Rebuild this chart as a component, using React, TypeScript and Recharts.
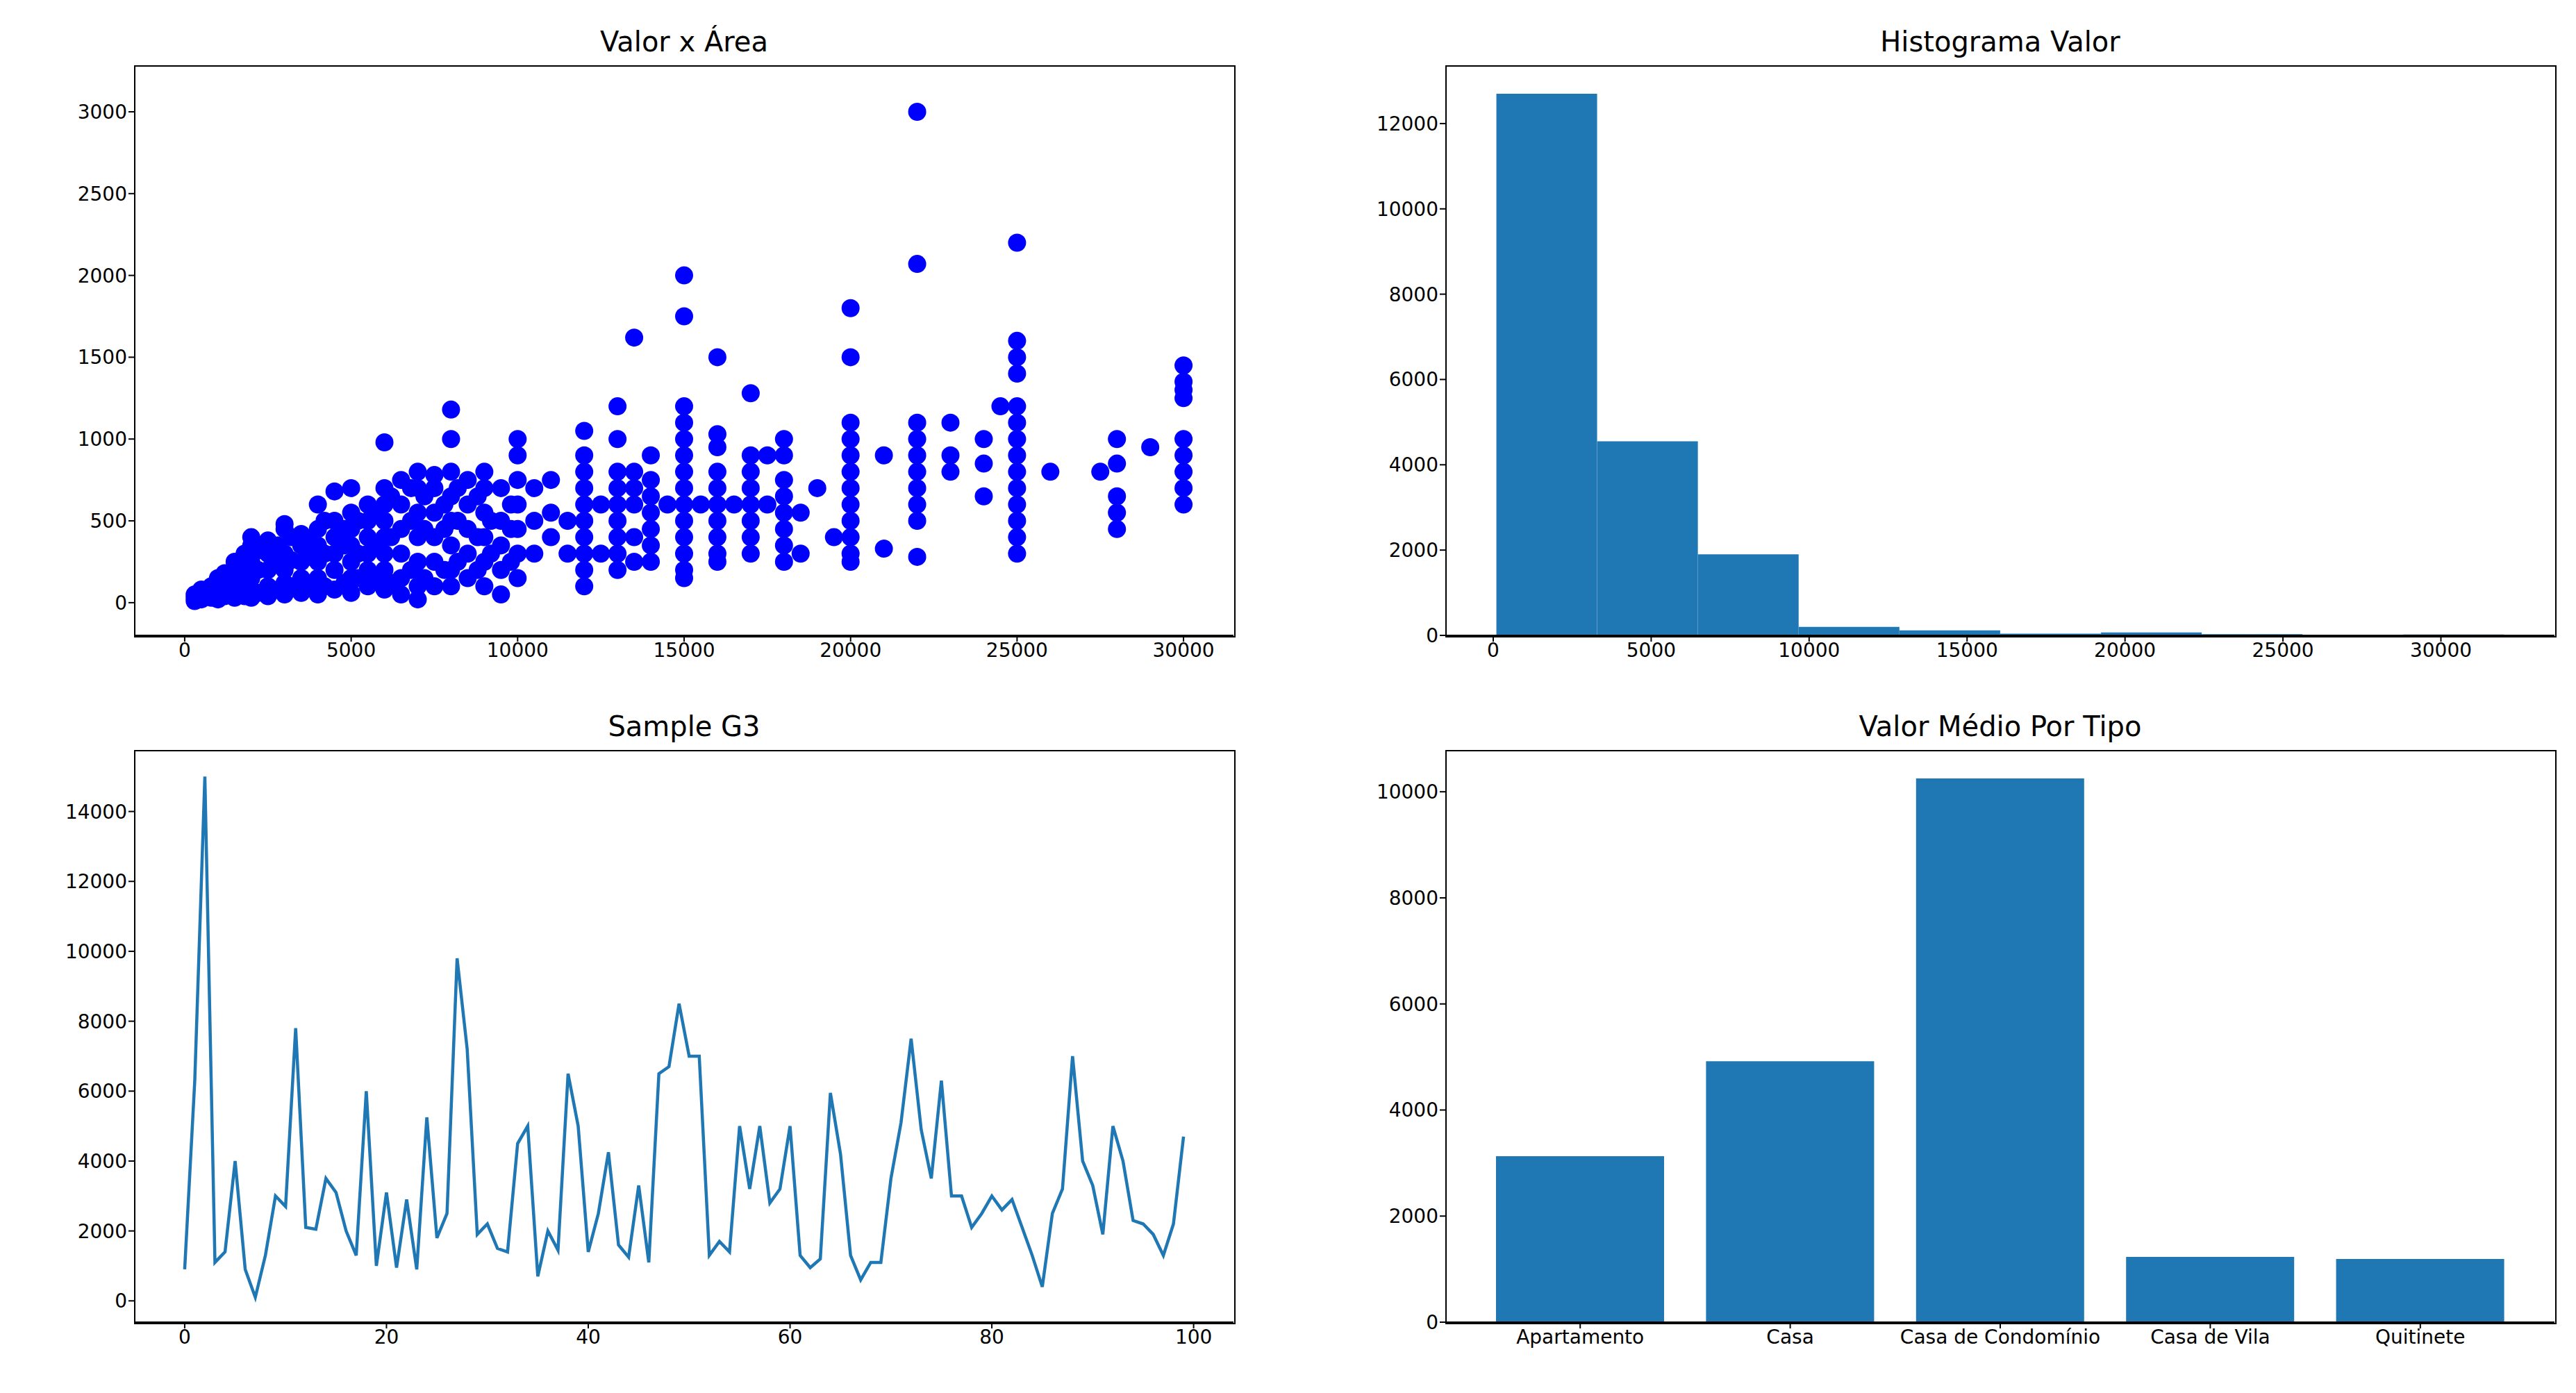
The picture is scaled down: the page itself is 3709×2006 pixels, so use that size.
import React from 'react';
import {
  Bar,
  BarChart,
  CartesianGrid,
  Line,
  LineChart,
  Scatter,
  ScatterChart,
  XAxis,
  YAxis,
} from 'recharts';

// Valor x Área: each column is an x value (valor) with the áreas read at it
const scatterColumns: [number, number[]][] = [
  [300, [10, 30, 50]],
  [500, [20, 50, 80]],
  [800, [30, 60, 100]],
  [1000, [20, 50, 100, 150]],
  [1200, [40, 80, 180]],
  [1500, [30, 60, 100, 150, 200, 250]],
  [1800, [40, 100, 180, 300]],
  [2000, [30, 80, 150, 250, 350, 400]],
  [2200, [60, 200, 320]],
  [2500, [40, 100, 200, 300, 380]],
  [2800, [80, 230, 350]],
  [3000, [50, 120, 200, 300, 450, 480]],
  [3200, [100, 260, 400]],
  [3500, [60, 150, 250, 350, 420]],
  [3800, [120, 280, 380]],
  [4000, [50, 150, 250, 350, 450, 600]],
  [4200, [100, 300, 500]],
  [4500, [80, 200, 300, 400, 500, 680]],
  [4800, [120, 350, 450]],
  [5000, [60, 150, 250, 350, 450, 550, 700]],
  [5200, [150, 300, 500]],
  [5500, [100, 200, 300, 400, 500, 600]],
  [5800, [150, 350, 550]],
  [6000, [80, 200, 300, 400, 500, 600, 700, 980]],
  [6200, [120, 400, 650]],
  [6500, [50, 150, 300, 450, 600, 750]],
  [6800, [200, 500, 700]],
  [7000, [20, 100, 250, 400, 550, 700, 800]],
  [7200, [150, 450, 650]],
  [7500, [100, 250, 400, 550, 700, 780]],
  [7800, [200, 450, 600]],
  [8000, [100, 200, 350, 500, 650, 800, 1000, 1180]],
  [8200, [250, 500, 700]],
  [8500, [150, 300, 450, 600, 750]],
  [8800, [200, 400, 650]],
  [9000, [100, 250, 400, 550, 700, 800]],
  [9200, [300, 500]],
  [9500, [50, 200, 350, 500, 700]],
  [9800, [250, 450, 600]],
  [10000, [150, 300, 450, 600, 750, 900, 1000]],
  [10500, [300, 500, 700]],
  [11000, [400, 550, 750]],
  [11500, [300, 500]],
  [12000, [100, 200, 300, 400, 500, 600, 700, 800, 900, 1050]],
  [12500, [300, 600]],
  [13000, [200, 300, 400, 500, 600, 700, 800, 1000, 1200]],
  [13500, [250, 400, 600, 700, 800, 1620]],
  [14000, [250, 350, 450, 550, 650, 750, 900]],
  [14500, [600]],
  [15000, [150, 200, 300, 400, 500, 600, 700, 800, 900, 1000, 1100, 1200, 1750, 2000]],
  [15500, [600]],
  [16000, [250, 300, 400, 500, 600, 700, 800, 950, 1030, 1500]],
  [16500, [600]],
  [17000, [300, 400, 500, 600, 700, 800, 900, 1280]],
  [17500, [600, 900]],
  [18000, [250, 350, 450, 550, 650, 750, 900, 1000]],
  [18500, [300, 550]],
  [19000, [700]],
  [19500, [400]],
  [20000, [250, 300, 400, 500, 600, 700, 800, 900, 1000, 1100, 1500, 1800]],
  [21000, [330, 900]],
  [22000, [280, 500, 600, 700, 800, 900, 1000, 1100, 2070, 3000]],
  [23000, [800, 900, 1100]],
  [24000, [650, 850, 1000]],
  [24500, [1200]],
  [25000, [300, 400, 500, 600, 700, 800, 900, 1000, 1100, 1200, 1400, 1500, 1600, 2200]],
  [26000, [800]],
  [27500, [800]],
  [28000, [450, 550, 650, 850, 1000]],
  [29000, [950]],
  [30000, [600, 700, 800, 900, 1000, 1250, 1300, 1350, 1450]],
];

// Histograma Valor
const histMids = [1695, 4885, 8075, 11265, 14455, 17645, 20835, 24025, 27215, 30405];
const histCounts = [12700, 4550, 1900, 200, 120, 40, 70, 30, 10, 20];

// Sample G3
const sampleValues = [
  900, 6300, 15000, 1100, 1400, 4000, 900, 100, 1300, 3000,
  2700, 7800, 2100, 2050, 3500, 3100, 2000, 1300, 6000, 1000,
  3100, 950, 2900, 900, 5250, 1800, 2500, 9800, 7200, 1900,
  2200, 1500, 1400, 4500, 5000, 700, 2000, 1450, 6500, 5000,
  1400, 2500, 4250, 1600, 1250, 3300, 1100, 6500, 6700, 8500,
  7000, 7000, 1300, 1700, 1400, 5000, 3200, 5000, 2800, 3200,
  5000, 1300, 950, 1200, 5950, 4200, 1300, 600, 1100, 1100,
  3500, 5100, 7500, 4900, 3500, 6300, 3000, 3000, 2100, 2500,
  3000, 2600, 2900, 2100, 1300, 400, 2500, 3200, 7000, 4000,
  3300, 1900, 5000, 4000, 2300, 2200, 1900, 1300, 2200, 4700,
];

// Valor Médio Por Tipo
const tipos = ['Apartamento', 'Casa', 'Casa de Condomínio', 'Casa de Vila', 'Quitinete'];
const mediaValor = [3130, 4920, 10250, 1230, 1190];

const scatterData = scatterColumns.flatMap(([x, ys]) => ys.map(y => ({ valor: x, area: y })));
const histData = histMids.map((m, i) => ({ mid: m, count: histCounts[i] }));
const sampleData = sampleValues.map((v, i) => ({ i, v }));
const tipoData = tipos.map((t, i) => ({ tipo: t, valor: mediaValor[i] }));

const FONT = 'DejaVu Sans, sans-serif';
const YW = 180;
const XH = 90;
const tick = { fill: '#000', fontSize: 28, fontFamily: FONT };
const axisProps = {
  stroke: '#000',
  strokeWidth: 2,
  tickLine: { stroke: '#000', strokeWidth: 2 },
  tickSize: 9,
  tick,
};

const cols = [
  { left: 194, width: 1582 },
  { left: 2082, width: 1596 },
];
const rows = [
  { top: 95, height: 820 },
  { top: 1081, height: 823 },
];

function Panel({ c, r, title, children }: { c: number; r: number; title: string; children: React.ReactNode }) {
  const { left, width } = cols[c];
  const { top, height } = rows[r];
  return (
    <>
      <div
        style={{
          position: 'absolute',
          left,
          width,
          top: top - 58,
          textAlign: 'center',
          fontFamily: FONT,
          fontSize: 40,
          color: '#000',
        }}
      >
        {title}
      </div>
      <div style={{ position: 'absolute', left: left - YW, top }}>{children}</div>
      <div
        style={{
          position: 'absolute',
          left: left - 1,
          top: top - 1,
          width,
          height,
          border: '2px solid #000',
          pointerEvents: 'none',
        }}
      />
    </>
  );
}

const m = { top: 0, right: 0, bottom: 0, left: 0 };

export default function App() {
  return (
    <div style={{ position: 'absolute', left: 0, top: 0, width: 3709, height: 2006, background: '#fff' }}>
      <Panel c={0} r={0} title="Valor x Área">
        <ScatterChart width={cols[0].width + YW} height={rows[0].height + XH} margin={m}>
          <XAxis
            type="number"
            dataKey="valor"
            domain={[-1500, 31500]}
            ticks={[0, 5000, 10000, 15000, 20000, 25000, 30000]}
            height={XH}
            {...axisProps}
          />
          <YAxis
            type="number"
            dataKey="area"
            domain={[-200, 3280]}
            ticks={[0, 500, 1000, 1500, 2000, 2500, 3000]}
            width={YW}
            {...axisProps}
          />
          <Scatter
            data={scatterData}
            fill="#0000ff"
            isAnimationActive={false}
            shape={(p: any) => <circle cx={p.cx} cy={p.cy} r={13} fill="#0000ff" />}
          />
        </ScatterChart>
      </Panel>

      <Panel c={1} r={0} title="Histograma Valor">
        <BarChart width={cols[1].width + YW} height={rows[0].height + XH} data={histData} margin={m}>
          <XAxis
            type="number"
            dataKey="mid"
            domain={[-1495, 33595]}
            ticks={[0, 5000, 10000, 15000, 20000, 25000, 30000]}
            height={XH}
            {...axisProps}
          />
          <YAxis
            type="number"
            domain={[0, 13350]}
            ticks={[0, 2000, 4000, 6000, 8000, 10000, 12000]}
            width={YW}
            {...axisProps}
          />
          <Bar dataKey="count" fill="#1f77b4" barSize={145} isAnimationActive={false} />
        </BarChart>
      </Panel>

      <Panel c={0} r={1} title="Sample G3">
        <LineChart width={cols[0].width + YW} height={rows[1].height + XH} data={sampleData} margin={m}>
          <XAxis
            type="number"
            dataKey="i"
            domain={[-4.95, 103.95]}
            ticks={[0, 20, 40, 60, 80, 100]}
            height={XH}
            {...axisProps}
          />
          <YAxis
            type="number"
            domain={[-610, 15740]}
            ticks={[0, 2000, 4000, 6000, 8000, 10000, 12000, 14000]}
            width={YW}
            {...axisProps}
          />
          <Line dataKey="v" stroke="#1f77b4" strokeWidth={4.5} dot={false} isAnimationActive={false} />
        </LineChart>
      </Panel>

      <Panel c={1} r={1} title="Valor Médio Por Tipo">
        <BarChart width={cols[1].width + YW} height={rows[1].height + XH} data={tipoData} margin={m}>
          <XAxis dataKey="tipo" height={XH} padding={{ left: 42, right: 42 }} interval={0} {...axisProps} />
          <YAxis
            type="number"
            domain={[0, 10775]}
            ticks={[0, 2000, 4000, 6000, 8000, 10000]}
            width={YW}
            {...axisProps}
          />
          <Bar dataKey="valor" fill="#1f77b4" barSize={242} isAnimationActive={false} />
        </BarChart>
      </Panel>
    </div>
  );
}
